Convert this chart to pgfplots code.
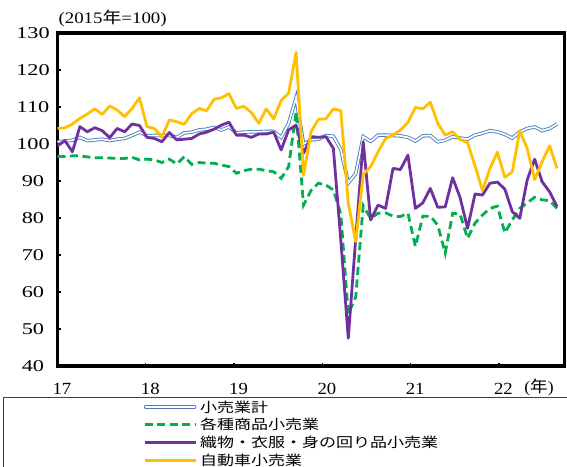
\documentclass[border=0pt]{standalone}
\usepackage{fontspec}
\setmainfont{Liberation Serif}
\newfontfamily\jp{Noto Sans CJK JP}
\usepackage{graphicx}
\usepackage{pgfplots}
\usepackage{pgfplotstable}
\pgfplotsset{compat=1.18}

\definecolor{cBlue}{HTML}{4A7EBB}
\definecolor{cGreen}{HTML}{00B050}
\definecolor{cPurple}{HTML}{7030A0}
\definecolor{cYellow}{HTML}{FFC000}

\newcommand\J[1]{\scalebox{1.25}[1]{\jp #1}}
\newcommand\XL[1]{\scalebox{1.1}[1]{#1}}

\pgfplotstableread{
i total shop cloth car
0 100.6 96.6 99.5 104.2
1 100.8 96.6 100.9 104.4
2 101.0 96.8 97.9 105.4
3 101.8 96.8 104.7 106.9
4 100.9 96.5 103.3 108.1
5 101.1 96.3 104.4 109.5
6 101.3 96.3 103.6 108.0
7 100.9 96.2 101.7 110.3
8 101.3 96.1 104.2 109.2
9 101.5 96.1 103.3 107.4
10 102.3 96.4 105.4 109.6
11 103.2 95.7 105.0 112.5
12 102.2 95.9 101.8 104.7
13 102.3 95.7 101.5 104.2
14 102.3 95.0 100.6 101.9
15 102.3 95.9 103.1 106.5
16 101.8 94.6 101.1 106.0
17 103.0 96.6 101.3 105.3
18 103.2 94.5 101.5 108.2
19 103.8 95.0 102.7 109.6
20 104.0 94.8 103.2 109.0
21 104.5 94.8 104.0 112.1
22 103.8 94.3 105.1 112.5
23 104.6 93.9 105.9 113.6
24 103.0 92.1 102.4 109.6
25 103.2 92.8 102.4 110.2
26 103.3 93.2 101.8 108.5
27 103.3 93.2 102.7 105.6
28 103.4 92.8 102.7 109.5
29 103.4 92.5 103.2 106.8
30 101.8 90.7 98.4 111.8
31 105.6 93.9 103.8 113.7
32 112.5 108.7 105.1 124.8
33 100.0 83.5 97.5 91.5
34 101.1 87.4 102.0 103.3
35 101.3 89.4 101.8 106.7
36 102.3 88.9 102.0 106.8
37 102.1 87.6 98.8 109.5
38 98.5 81.0 74.0 109.0
39 89.5 54.0 47.5 84.0
40 92.0 58.7 74.5 73.6
41 102.0 83.3 100.6 91.8
42 100.7 79.9 79.5 93.9
43 102.4 81.3 83.5 97.9
44 102.4 81.4 82.6 101.5
45 102.3 80.5 93.4 102.4
46 102.2 80.4 93.1 103.8
47 101.8 81.3 97.0 105.8
48 100.8 72.3 82.6 109.9
49 102.2 80.5 84.1 109.5
50 102.3 80.5 88.0 111.3
51 100.6 78.1 82.9 105.6
52 101.0 70.5 83.0 102.4
53 102.0 81.3 90.9 103.3
54 101.6 81.0 85.5 101.2
55 101.3 74.5 77.2 100.4
56 102.4 78.6 86.5 94.1
57 102.9 80.8 86.2 87.4
58 103.6 82.6 89.4 93.4
59 103.3 83.2 89.7 97.8
60 102.6 76.0 87.8 91.0
61 101.6 79.5 81.7 92.5
62 103.3 82.6 79.9 103.6
63 104.2 84.1 90.3 98.8
64 104.6 85.6 95.9 90.4
65 103.6 84.9 89.8 95.2
66 104.2 84.7 87.1 99.5
67 105.4 82.6 83.1 93.4
}\data

\begin{document}
\begin{tikzpicture}
\begin{axis}[
  at={(0pt,0pt)}, anchor=south west,
  width=507pt, height=333pt, scale only axis,
  xmin=0, xmax=68, ymin=40, ymax=130,
  xtick={0,11.843,23.686,35.529,47.372,59.215},
  xticklabels={\XL{17},\XL{18},\XL{19},\XL{20},\XL{21},\XL{22}},
  ytick={40,50,...,130},
  yticklabel={\scalebox{1.35}[1]{\pgfmathprintnumber[assume math mode=true]{\tick}}},
  xtick pos=bottom, ytick pos=left,
  tick align=inside,
  major tick length=3.5pt,
  every tick/.style={black, line width=1.2pt},
  axis line style={line width=3.8pt, black},
  xticklabel style={anchor=center, yshift=-23pt, xshift=4.5pt, font=\fontsize{17}{19}\selectfont},
  yticklabel style={anchor=center, xshift=-24.5pt, font=\fontsize{16.5}{19}\selectfont},
  legend style={
    at={(0.1692,-0.1036)}, anchor=north west, draw=none, fill=none,
    inner sep=0pt, outer sep=0pt, row sep=4.7pt, column sep=3pt,
    nodes={inner sep=0pt, text height=11.5pt, text depth=1.5pt, anchor=west, font=\fontsize{13.6}{15}\selectfont},
  },
  legend cell align=left,
  legend image code/.code={\draw[#1] (0pt,0pt) -- (51pt,0pt);},
]
\addplot[draw=cBlue, line width=0.9pt, double=white, double distance=1.7pt,
  legend image code/.code={\draw[draw=cBlue, line width=0.9pt, double=white, double distance=1.7pt, line cap=round] (1pt,0pt) -- (50pt,0pt);}]
  table[x=i,y=total]{\data};
\addplot[cGreen, line width=2.8pt, dash pattern=on 8pt off 4.5pt] table[x=i,y=shop]{\data};
\addplot[cPurple, line width=2.8pt, line join=round] table[x=i,y=cloth]{\data};
\addplot[cYellow, line width=2.8pt, line join=round] table[x=i,y=car]{\data};
\legend{\J{小売業計},\J{各種商品小売業},\J{織物・衣服・身の回り品小売業},\J{自動車小売業}}
\end{axis}
\node[anchor=west, font=\fontsize{16}{19}\selectfont] at (-2.5pt,347.7pt) {\scalebox{1.18}[1]{(2015{\jp 年}=100)}};
\node[font=\fontsize{16}{19}\selectfont] at (481.5pt,-21.5pt) {\scalebox{1.1}[1]{({\jp 年})}};
\draw[line width=0.8pt, black!75] (-54pt,-31.7pt) rectangle (530pt,-140pt);
\pgfresetboundingbox
\path[use as bounding box] (-57.5pt,-100pt) rectangle (509.5pt,366pt);
\end{tikzpicture}
\end{document}
